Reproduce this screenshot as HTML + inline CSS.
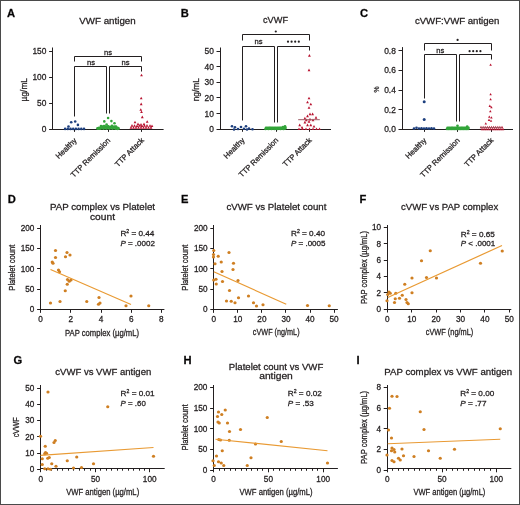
<!DOCTYPE html>
<html><head><meta charset="utf-8"><style>
html,body{margin:0;padding:0;background:#fff;}
svg{display:block;font-family:"Liberation Sans", sans-serif;will-change:transform;}
text{stroke:#231f20;stroke-width:0.28px;}
</style></head><body>
<svg width="520" height="505" viewBox="0 0 520 505">
<rect x="0.5" y="0.5" width="519" height="504" fill="none" stroke="#4a4a4a" stroke-width="1"/>
<text x="7.00" y="16.90" font-size="11.2" text-anchor="start" font-weight="bold" fill="#000"  style="">A</text>
<text x="180.70" y="16.90" font-size="11.2" text-anchor="start" font-weight="bold" fill="#000"  style="">B</text>
<text x="360.00" y="17.30" font-size="11.2" text-anchor="start" font-weight="bold" fill="#000"  style="">C</text>
<text x="7.70" y="203.40" font-size="11.2" text-anchor="start" font-weight="bold" fill="#000"  style="">D</text>
<text x="181.00" y="203.40" font-size="11.2" text-anchor="start" font-weight="bold" fill="#000"  style="">E</text>
<text x="359.40" y="203.40" font-size="11.2" text-anchor="start" font-weight="bold" fill="#000"  style="">F</text>
<text x="13.50" y="364.00" font-size="11.2" text-anchor="start" font-weight="bold" fill="#000"  style="">G</text>
<text x="183.60" y="363.70" font-size="11.2" text-anchor="start" font-weight="bold" fill="#000"  style="">H</text>
<text x="356.40" y="363.70" font-size="11.2" text-anchor="start" font-weight="bold" fill="#000"  style="">I</text>
<text x="107.50" y="23.80" font-size="9.6" text-anchor="middle" font-weight="normal" fill="#231f20" textLength="56.3" lengthAdjust="spacingAndGlyphs" style="">VWF antigen</text>
<text x="275.50" y="23.40" font-size="9.6" text-anchor="middle" font-weight="normal" fill="#231f20" textLength="25" lengthAdjust="spacingAndGlyphs" style="">cVWF</text>
<text x="457.10" y="23.80" font-size="9.6" text-anchor="middle" font-weight="normal" fill="#231f20" textLength="84.4" lengthAdjust="spacingAndGlyphs" style="">cVWF:VWF antigen</text>
<line x1="52.60" y1="129.50" x2="163.60" y2="129.50" stroke="#231f20" stroke-width="1"/>
<line x1="52.50" y1="47.50" x2="52.50" y2="129.90" stroke="#231f20" stroke-width="1"/>
<line x1="49.10" y1="129.50" x2="52.60" y2="129.50" stroke="#231f20" stroke-width="1"/>
<text x="46.40" y="132.30" font-size="8.4" text-anchor="end" font-weight="normal" fill="#231f20"  style="">0</text>
<line x1="49.10" y1="103.50" x2="52.60" y2="103.50" stroke="#231f20" stroke-width="1"/>
<text x="46.40" y="106.17" font-size="8.4" text-anchor="end" font-weight="normal" fill="#231f20"  style="">50</text>
<line x1="49.10" y1="77.50" x2="52.60" y2="77.50" stroke="#231f20" stroke-width="1"/>
<text x="46.40" y="80.03" font-size="8.4" text-anchor="end" font-weight="normal" fill="#231f20"  style="">100</text>
<line x1="49.10" y1="51.50" x2="52.60" y2="51.50" stroke="#231f20" stroke-width="1"/>
<text x="46.40" y="53.90" font-size="8.4" text-anchor="end" font-weight="normal" fill="#231f20"  style="">150</text>
<line x1="74.50" y1="129.40" x2="74.50" y2="131.90" stroke="#231f20" stroke-width="1"/>
<text transform="translate(77.30,140.90) rotate(-45)" font-size="7.7" text-anchor="end" fill="#231f20">Healthy</text>
<line x1="108.50" y1="129.40" x2="108.50" y2="131.90" stroke="#231f20" stroke-width="1"/>
<text transform="translate(110.90,140.90) rotate(-45)" font-size="7.7" text-anchor="end" fill="#231f20">TTP Remission</text>
<line x1="141.50" y1="129.40" x2="141.50" y2="131.90" stroke="#231f20" stroke-width="1"/>
<text transform="translate(144.40,140.90) rotate(-45)" font-size="7.7" text-anchor="end" fill="#231f20">TTP Attack</text>
<text transform="translate(27.00,89.70) rotate(-90)" font-size="8.4" text-anchor="middle" fill="#231f20">µg/mL</text>
<polyline points="74.50,61.50 74.50,56.50 141.50,56.50 141.50,61.50" fill="none" stroke="#231f20" stroke-width="1"/>
<polyline points="74.50,116.50 74.50,66.50 106.50,66.50 106.50,113.50" fill="none" stroke="#231f20" stroke-width="1"/>
<polyline points="109.50,113.50 109.50,66.50 141.50,66.50 141.50,71.50" fill="none" stroke="#231f20" stroke-width="1"/>
<text x="108.00" y="55.20" font-size="7.6" text-anchor="middle" font-weight="normal" fill="#231f20"  style="">ns</text>
<text x="91.00" y="64.60" font-size="7.6" text-anchor="middle" font-weight="normal" fill="#231f20"  style="">ns</text>
<text x="125.60" y="64.60" font-size="7.6" text-anchor="middle" font-weight="normal" fill="#231f20"  style="">ns</text>
<circle cx="71.20" cy="122.20" r="1.3" fill="#1d3f7e"/>
<circle cx="75.20" cy="121.50" r="1.3" fill="#1d3f7e"/>
<circle cx="68.50" cy="126.50" r="1.3" fill="#1d3f7e"/>
<circle cx="77.90" cy="124.90" r="1.3" fill="#1d3f7e"/>
<circle cx="65.10" cy="128.90" r="1.3" fill="#1d3f7e"/>
<circle cx="67.80" cy="128.90" r="1.3" fill="#1d3f7e"/>
<circle cx="70.50" cy="128.90" r="1.3" fill="#1d3f7e"/>
<circle cx="73.20" cy="128.90" r="1.3" fill="#1d3f7e"/>
<circle cx="75.90" cy="128.90" r="1.3" fill="#1d3f7e"/>
<circle cx="78.60" cy="128.90" r="1.3" fill="#1d3f7e"/>
<circle cx="81.30" cy="128.90" r="1.3" fill="#1d3f7e"/>
<circle cx="84.00" cy="128.90" r="1.3" fill="#1d3f7e"/>
<circle cx="108.10" cy="118.00" r="1.3" fill="#33a53a"/>
<circle cx="104.30" cy="121.40" r="1.3" fill="#33a53a"/>
<circle cx="111.40" cy="121.10" r="1.3" fill="#33a53a"/>
<circle cx="114.50" cy="123.20" r="1.3" fill="#33a53a"/>
<circle cx="106.60" cy="124.50" r="1.3" fill="#33a53a"/>
<circle cx="101.00" cy="126.00" r="1.3" fill="#33a53a"/>
<circle cx="116.00" cy="126.50" r="1.3" fill="#33a53a"/>
<circle cx="97.50" cy="128.50" r="1.4" fill="#33a53a"/>
<circle cx="98.50" cy="128.20" r="1.4" fill="#33a53a"/>
<circle cx="99.50" cy="127.90" r="1.4" fill="#33a53a"/>
<circle cx="100.50" cy="128.50" r="1.4" fill="#33a53a"/>
<circle cx="101.50" cy="127.60" r="1.4" fill="#33a53a"/>
<circle cx="102.50" cy="126.70" r="1.4" fill="#33a53a"/>
<circle cx="103.50" cy="128.50" r="1.4" fill="#33a53a"/>
<circle cx="104.50" cy="127.60" r="1.4" fill="#33a53a"/>
<circle cx="105.50" cy="126.70" r="1.4" fill="#33a53a"/>
<circle cx="106.50" cy="128.50" r="1.4" fill="#33a53a"/>
<circle cx="107.50" cy="127.60" r="1.4" fill="#33a53a"/>
<circle cx="108.50" cy="126.70" r="1.4" fill="#33a53a"/>
<circle cx="109.50" cy="128.50" r="1.4" fill="#33a53a"/>
<circle cx="110.50" cy="127.60" r="1.4" fill="#33a53a"/>
<circle cx="111.50" cy="126.70" r="1.4" fill="#33a53a"/>
<circle cx="112.50" cy="128.50" r="1.4" fill="#33a53a"/>
<circle cx="113.50" cy="127.60" r="1.4" fill="#33a53a"/>
<circle cx="114.50" cy="126.70" r="1.4" fill="#33a53a"/>
<circle cx="115.50" cy="128.50" r="1.4" fill="#33a53a"/>
<circle cx="116.50" cy="128.20" r="1.4" fill="#33a53a"/>
<circle cx="117.50" cy="127.90" r="1.4" fill="#33a53a"/>
<circle cx="118.50" cy="128.50" r="1.4" fill="#33a53a"/>
<circle cx="102.00" cy="127.50" r="1.4" fill="#33a53a"/>
<circle cx="106.00" cy="127.00" r="1.4" fill="#33a53a"/>
<circle cx="110.00" cy="127.50" r="1.4" fill="#33a53a"/>
<circle cx="113.00" cy="127.20" r="1.4" fill="#33a53a"/>
<circle cx="99.00" cy="128.50" r="1.4" fill="#33a53a"/>
<circle cx="117.50" cy="128.80" r="1.4" fill="#33a53a"/>
<circle cx="104.00" cy="126.20" r="1.4" fill="#33a53a"/>
<circle cx="108.00" cy="126.30" r="1.4" fill="#33a53a"/>
<circle cx="112.00" cy="126.00" r="1.4" fill="#33a53a"/>
<polygon points="141.50,73.70 140.10,76.36 142.90,76.36" fill="#b8122f"/>
<polygon points="141.20,96.70 139.80,99.36 142.60,99.36" fill="#b8122f"/>
<polygon points="141.20,102.50 139.80,105.16 142.60,105.16" fill="#b8122f"/>
<polygon points="140.80,108.20 139.40,110.86 142.20,110.86" fill="#b8122f"/>
<polygon points="141.50,110.40 140.10,113.06 142.90,113.06" fill="#b8122f"/>
<polygon points="142.30,115.60 140.90,118.26 143.70,118.26" fill="#b8122f"/>
<polygon points="135.00,120.70 133.60,123.36 136.40,123.36" fill="#b8122f"/>
<polygon points="147.20,120.20 145.80,122.86 148.60,122.86" fill="#b8122f"/>
<polygon points="138.00,122.60 136.60,125.26 139.40,125.26" fill="#b8122f"/>
<polygon points="141.00,123.00 139.60,125.66 142.40,125.66" fill="#b8122f"/>
<polygon points="144.00,122.60 142.60,125.26 145.40,125.26" fill="#b8122f"/>
<polygon points="132.00,124.00 130.60,126.66 133.40,126.66" fill="#b8122f"/>
<polygon points="134.50,124.20 133.10,126.86 135.90,126.86" fill="#b8122f"/>
<polygon points="137.00,124.40 135.60,127.06 138.40,127.06" fill="#b8122f"/>
<polygon points="139.50,124.00 138.10,126.66 140.90,126.66" fill="#b8122f"/>
<polygon points="142.00,124.40 140.60,127.06 143.40,127.06" fill="#b8122f"/>
<polygon points="144.50,124.20 143.10,126.86 145.90,126.86" fill="#b8122f"/>
<polygon points="147.00,124.00 145.60,126.66 148.40,126.66" fill="#b8122f"/>
<polygon points="150.00,124.20 148.60,126.86 151.40,126.86" fill="#b8122f"/>
<polygon points="152.00,124.40 150.60,127.06 153.40,127.06" fill="#b8122f"/>
<polygon points="131.00,126.00 129.60,128.66 132.40,128.66" fill="#b8122f"/>
<polygon points="133.50,126.20 132.10,128.86 134.90,128.86" fill="#b8122f"/>
<polygon points="136.00,126.00 134.60,128.66 137.40,128.66" fill="#b8122f"/>
<polygon points="138.50,126.20 137.10,128.86 139.90,128.86" fill="#b8122f"/>
<polygon points="141.00,126.00 139.60,128.66 142.40,128.66" fill="#b8122f"/>
<polygon points="143.50,126.20 142.10,128.86 144.90,128.86" fill="#b8122f"/>
<polygon points="146.00,126.00 144.60,128.66 147.40,128.66" fill="#b8122f"/>
<polygon points="148.50,126.20 147.10,128.86 149.90,128.86" fill="#b8122f"/>
<polygon points="151.00,126.00 149.60,128.66 152.40,128.66" fill="#b8122f"/>
<line x1="220.00" y1="129.50" x2="331.00" y2="129.50" stroke="#231f20" stroke-width="1"/>
<line x1="220.50" y1="47.50" x2="220.50" y2="129.80" stroke="#231f20" stroke-width="1"/>
<line x1="216.50" y1="129.50" x2="220.00" y2="129.50" stroke="#231f20" stroke-width="1"/>
<text x="213.80" y="132.20" font-size="8.4" text-anchor="end" font-weight="normal" fill="#231f20"  style="">0</text>
<line x1="216.50" y1="113.50" x2="220.00" y2="113.50" stroke="#231f20" stroke-width="1"/>
<text x="213.80" y="116.54" font-size="8.4" text-anchor="end" font-weight="normal" fill="#231f20"  style="">10</text>
<line x1="216.50" y1="97.50" x2="220.00" y2="97.50" stroke="#231f20" stroke-width="1"/>
<text x="213.80" y="100.88" font-size="8.4" text-anchor="end" font-weight="normal" fill="#231f20"  style="">20</text>
<line x1="216.50" y1="82.50" x2="220.00" y2="82.50" stroke="#231f20" stroke-width="1"/>
<text x="213.80" y="85.22" font-size="8.4" text-anchor="end" font-weight="normal" fill="#231f20"  style="">30</text>
<line x1="216.50" y1="66.50" x2="220.00" y2="66.50" stroke="#231f20" stroke-width="1"/>
<text x="213.80" y="69.56" font-size="8.4" text-anchor="end" font-weight="normal" fill="#231f20"  style="">40</text>
<line x1="216.50" y1="51.50" x2="220.00" y2="51.50" stroke="#231f20" stroke-width="1"/>
<text x="213.80" y="53.90" font-size="8.4" text-anchor="end" font-weight="normal" fill="#231f20"  style="">50</text>
<line x1="242.50" y1="129.30" x2="242.50" y2="131.80" stroke="#231f20" stroke-width="1"/>
<text transform="translate(245.30,140.80) rotate(-45)" font-size="7.7" text-anchor="end" fill="#231f20">Healthy</text>
<line x1="276.50" y1="129.30" x2="276.50" y2="131.80" stroke="#231f20" stroke-width="1"/>
<text transform="translate(278.90,140.80) rotate(-45)" font-size="7.7" text-anchor="end" fill="#231f20">TTP Remission</text>
<line x1="309.50" y1="129.30" x2="309.50" y2="131.80" stroke="#231f20" stroke-width="1"/>
<text transform="translate(312.30,140.80) rotate(-45)" font-size="7.7" text-anchor="end" fill="#231f20">TTP Attack</text>
<text transform="translate(199.00,89.65) rotate(-90)" font-size="8.4" text-anchor="middle" fill="#231f20">ng/mL</text>
<polyline points="242.50,40.50 242.50,34.50 309.50,34.50 309.50,40.50" fill="none" stroke="#231f20" stroke-width="1"/>
<polyline points="242.50,120.50 242.50,46.50 274.50,46.50 274.50,122.50" fill="none" stroke="#231f20" stroke-width="1"/>
<polyline points="277.50,122.50 277.50,46.50 309.50,46.50 309.50,50.50" fill="none" stroke="#231f20" stroke-width="1"/>
<circle cx="275.80" cy="31.50" r="1.1" fill="#231f20"/>
<text x="258.50" y="43.90" font-size="7.6" text-anchor="middle" font-weight="normal" fill="#231f20"  style="">ns</text>
<circle cx="288.00" cy="41.70" r="1.1" fill="#231f20"/>
<circle cx="291.60" cy="41.70" r="1.1" fill="#231f20"/>
<circle cx="295.20" cy="41.70" r="1.1" fill="#231f20"/>
<circle cx="298.80" cy="41.70" r="1.1" fill="#231f20"/>
<circle cx="232.00" cy="126.30" r="1.3" fill="#1d3f7e"/>
<circle cx="235.00" cy="127.30" r="1.3" fill="#1d3f7e"/>
<circle cx="241.00" cy="127.00" r="1.3" fill="#1d3f7e"/>
<circle cx="246.00" cy="126.30" r="1.3" fill="#1d3f7e"/>
<circle cx="238.00" cy="129.00" r="1.3" fill="#1d3f7e"/>
<circle cx="244.00" cy="128.80" r="1.3" fill="#1d3f7e"/>
<circle cx="249.00" cy="128.50" r="1.3" fill="#1d3f7e"/>
<circle cx="252.50" cy="129.20" r="1.3" fill="#1d3f7e"/>
<circle cx="234.00" cy="129.50" r="1.3" fill="#1d3f7e"/>
<circle cx="247.00" cy="129.50" r="1.3" fill="#1d3f7e"/>
<circle cx="265.50" cy="129.00" r="1.35" fill="#33a53a"/>
<circle cx="266.00" cy="127.80" r="1.3" fill="#33a53a"/>
<circle cx="267.00" cy="128.60" r="1.35" fill="#33a53a"/>
<circle cx="267.50" cy="127.80" r="1.3" fill="#33a53a"/>
<circle cx="268.50" cy="129.00" r="1.35" fill="#33a53a"/>
<circle cx="269.00" cy="127.80" r="1.3" fill="#33a53a"/>
<circle cx="270.00" cy="128.60" r="1.35" fill="#33a53a"/>
<circle cx="270.50" cy="127.80" r="1.3" fill="#33a53a"/>
<circle cx="271.50" cy="129.00" r="1.35" fill="#33a53a"/>
<circle cx="272.00" cy="127.80" r="1.3" fill="#33a53a"/>
<circle cx="273.00" cy="128.60" r="1.35" fill="#33a53a"/>
<circle cx="273.50" cy="127.80" r="1.3" fill="#33a53a"/>
<circle cx="274.50" cy="129.00" r="1.35" fill="#33a53a"/>
<circle cx="275.00" cy="127.80" r="1.3" fill="#33a53a"/>
<circle cx="276.00" cy="128.60" r="1.35" fill="#33a53a"/>
<circle cx="276.50" cy="127.80" r="1.3" fill="#33a53a"/>
<circle cx="277.50" cy="129.00" r="1.35" fill="#33a53a"/>
<circle cx="278.00" cy="127.80" r="1.3" fill="#33a53a"/>
<circle cx="279.00" cy="128.60" r="1.35" fill="#33a53a"/>
<circle cx="279.50" cy="127.80" r="1.3" fill="#33a53a"/>
<circle cx="280.50" cy="129.00" r="1.35" fill="#33a53a"/>
<circle cx="281.00" cy="127.80" r="1.3" fill="#33a53a"/>
<circle cx="282.00" cy="128.60" r="1.35" fill="#33a53a"/>
<circle cx="282.50" cy="127.80" r="1.3" fill="#33a53a"/>
<circle cx="283.50" cy="129.00" r="1.35" fill="#33a53a"/>
<circle cx="284.00" cy="127.80" r="1.3" fill="#33a53a"/>
<circle cx="285.00" cy="128.60" r="1.35" fill="#33a53a"/>
<circle cx="285.50" cy="127.80" r="1.3" fill="#33a53a"/>
<circle cx="283.00" cy="127.00" r="1.35" fill="#33a53a"/>
<circle cx="285.00" cy="126.30" r="1.35" fill="#33a53a"/>
<circle cx="270.00" cy="128.00" r="1.35" fill="#33a53a"/>
<circle cx="276.00" cy="128.30" r="1.35" fill="#33a53a"/>
<circle cx="280.00" cy="128.00" r="1.35" fill="#33a53a"/>
<polygon points="309.40,54.00 308.00,56.66 310.80,56.66" fill="#b8122f"/>
<polygon points="309.00,68.50 307.60,71.16 310.40,71.16" fill="#b8122f"/>
<polygon points="309.00,96.70 307.60,99.36 310.40,99.36" fill="#b8122f"/>
<polygon points="307.50,100.70 306.10,103.36 308.90,103.36" fill="#b8122f"/>
<polygon points="310.80,102.70 309.40,105.36 312.20,105.36" fill="#b8122f"/>
<polygon points="309.00,106.20 307.60,108.86 310.40,108.86" fill="#b8122f"/>
<polygon points="310.00,112.60 308.60,115.26 311.40,115.26" fill="#b8122f"/>
<polygon points="312.60,112.60 311.20,115.26 314.00,115.26" fill="#b8122f"/>
<polygon points="307.50,114.60 306.10,117.26 308.90,117.26" fill="#b8122f"/>
<polygon points="304.90,116.80 303.50,119.46 306.30,119.46" fill="#b8122f"/>
<polygon points="316.00,116.10 314.60,118.76 317.40,118.76" fill="#b8122f"/>
<polygon points="306.30,118.60 304.90,121.26 307.70,121.26" fill="#b8122f"/>
<polygon points="310.00,117.80 308.60,120.46 311.40,120.46" fill="#b8122f"/>
<polygon points="313.00,118.60 311.60,121.26 314.40,121.26" fill="#b8122f"/>
<polygon points="304.90,120.80 303.50,123.46 306.30,123.46" fill="#b8122f"/>
<polygon points="309.00,120.10 307.60,122.76 310.40,122.76" fill="#b8122f"/>
<polygon points="299.70,123.50 298.30,126.16 301.10,126.16" fill="#b8122f"/>
<polygon points="307.50,123.50 306.10,126.16 308.90,126.16" fill="#b8122f"/>
<polygon points="310.80,123.50 309.40,126.16 312.20,126.16" fill="#b8122f"/>
<polygon points="314.00,124.90 312.60,127.56 315.40,127.56" fill="#b8122f"/>
<polygon points="302.00,125.90 300.60,128.56 303.40,128.56" fill="#b8122f"/>
<polygon points="299.00,127.40 297.60,130.06 300.40,130.06" fill="#b8122f"/>
<polygon points="302.50,127.40 301.10,130.06 303.90,130.06" fill="#b8122f"/>
<polygon points="306.00,127.40 304.60,130.06 307.40,130.06" fill="#b8122f"/>
<polygon points="309.50,127.40 308.10,130.06 310.90,130.06" fill="#b8122f"/>
<polygon points="313.00,127.40 311.60,130.06 314.40,130.06" fill="#b8122f"/>
<polygon points="316.50,127.40 315.10,130.06 317.90,130.06" fill="#b8122f"/>
<polygon points="319.50,127.40 318.10,130.06 320.90,130.06" fill="#b8122f"/>
<line x1="298.20" y1="119.70" x2="319.80" y2="119.70" stroke="#9e5a64" stroke-width="1"/>
<line x1="402.00" y1="129.50" x2="513.00" y2="129.50" stroke="#231f20" stroke-width="1"/>
<line x1="402.50" y1="47.10" x2="402.50" y2="129.90" stroke="#231f20" stroke-width="1"/>
<line x1="398.50" y1="129.50" x2="402.00" y2="129.50" stroke="#231f20" stroke-width="1"/>
<text x="395.80" y="132.30" font-size="8.4" text-anchor="end" font-weight="normal" fill="#231f20"  style="">0.0</text>
<line x1="398.50" y1="109.50" x2="402.00" y2="109.50" stroke="#231f20" stroke-width="1"/>
<text x="395.80" y="112.60" font-size="8.4" text-anchor="end" font-weight="normal" fill="#231f20"  style="">0.2</text>
<line x1="398.50" y1="90.50" x2="402.00" y2="90.50" stroke="#231f20" stroke-width="1"/>
<text x="395.80" y="92.90" font-size="8.4" text-anchor="end" font-weight="normal" fill="#231f20"  style="">0.4</text>
<line x1="398.50" y1="70.50" x2="402.00" y2="70.50" stroke="#231f20" stroke-width="1"/>
<text x="395.80" y="73.20" font-size="8.4" text-anchor="end" font-weight="normal" fill="#231f20"  style="">0.6</text>
<line x1="398.50" y1="50.50" x2="402.00" y2="50.50" stroke="#231f20" stroke-width="1"/>
<text x="395.80" y="53.50" font-size="8.4" text-anchor="end" font-weight="normal" fill="#231f20"  style="">0.8</text>
<line x1="424.50" y1="129.40" x2="424.50" y2="131.90" stroke="#231f20" stroke-width="1"/>
<text transform="translate(426.90,140.90) rotate(-45)" font-size="7.7" text-anchor="end" fill="#231f20">Healthy</text>
<line x1="457.50" y1="129.40" x2="457.50" y2="131.90" stroke="#231f20" stroke-width="1"/>
<text transform="translate(460.40,140.90) rotate(-45)" font-size="7.7" text-anchor="end" fill="#231f20">TTP Remission</text>
<line x1="491.50" y1="129.40" x2="491.50" y2="131.90" stroke="#231f20" stroke-width="1"/>
<text transform="translate(493.90,140.90) rotate(-45)" font-size="7.7" text-anchor="end" fill="#231f20">TTP Attack</text>
<text transform="translate(379.00,89.50) rotate(-90)" font-size="6.8" text-anchor="middle" fill="#231f20">%</text>
<polyline points="424.50,50.50 424.50,43.50 491.50,43.50 491.50,50.50" fill="none" stroke="#231f20" stroke-width="1"/>
<polyline points="424.50,98.50 424.50,54.50 456.50,54.50 456.50,121.50" fill="none" stroke="#231f20" stroke-width="1"/>
<polyline points="459.50,121.50 459.50,54.50 491.50,54.50 491.50,59.50" fill="none" stroke="#231f20" stroke-width="1"/>
<circle cx="457.60" cy="39.90" r="1.1" fill="#231f20"/>
<text x="440.20" y="52.70" font-size="7.6" text-anchor="middle" font-weight="normal" fill="#231f20"  style="">ns</text>
<circle cx="469.60" cy="51.20" r="1.1" fill="#231f20"/>
<circle cx="473.20" cy="51.20" r="1.1" fill="#231f20"/>
<circle cx="476.80" cy="51.20" r="1.1" fill="#231f20"/>
<circle cx="480.40" cy="51.20" r="1.1" fill="#231f20"/>
<circle cx="424.20" cy="101.70" r="1.5" fill="#1d3f7e"/>
<circle cx="424.20" cy="119.60" r="1.5" fill="#1d3f7e"/>
<circle cx="414.00" cy="128.60" r="1.3" fill="#1d3f7e"/>
<circle cx="416.50" cy="127.80" r="1.3" fill="#1d3f7e"/>
<circle cx="419.00" cy="128.50" r="1.3" fill="#1d3f7e"/>
<circle cx="421.50" cy="128.20" r="1.3" fill="#1d3f7e"/>
<circle cx="424.00" cy="128.60" r="1.3" fill="#1d3f7e"/>
<circle cx="426.50" cy="128.20" r="1.3" fill="#1d3f7e"/>
<circle cx="429.00" cy="128.60" r="1.3" fill="#1d3f7e"/>
<circle cx="431.50" cy="128.20" r="1.3" fill="#1d3f7e"/>
<circle cx="434.00" cy="128.60" r="1.3" fill="#1d3f7e"/>
<circle cx="447.00" cy="129.00" r="1.35" fill="#33a53a"/>
<circle cx="447.50" cy="127.90" r="1.3" fill="#33a53a"/>
<circle cx="448.50" cy="129.00" r="1.35" fill="#33a53a"/>
<circle cx="449.00" cy="127.90" r="1.3" fill="#33a53a"/>
<circle cx="450.00" cy="129.00" r="1.35" fill="#33a53a"/>
<circle cx="450.50" cy="127.90" r="1.3" fill="#33a53a"/>
<circle cx="451.50" cy="129.00" r="1.35" fill="#33a53a"/>
<circle cx="452.00" cy="127.90" r="1.3" fill="#33a53a"/>
<circle cx="453.00" cy="129.00" r="1.35" fill="#33a53a"/>
<circle cx="453.50" cy="127.90" r="1.3" fill="#33a53a"/>
<circle cx="454.50" cy="129.00" r="1.35" fill="#33a53a"/>
<circle cx="455.00" cy="127.90" r="1.3" fill="#33a53a"/>
<circle cx="456.00" cy="129.00" r="1.35" fill="#33a53a"/>
<circle cx="456.50" cy="127.90" r="1.3" fill="#33a53a"/>
<circle cx="457.50" cy="129.00" r="1.35" fill="#33a53a"/>
<circle cx="458.00" cy="127.90" r="1.3" fill="#33a53a"/>
<circle cx="459.00" cy="129.00" r="1.35" fill="#33a53a"/>
<circle cx="459.50" cy="127.90" r="1.3" fill="#33a53a"/>
<circle cx="460.50" cy="129.00" r="1.35" fill="#33a53a"/>
<circle cx="461.00" cy="127.90" r="1.3" fill="#33a53a"/>
<circle cx="462.00" cy="129.00" r="1.35" fill="#33a53a"/>
<circle cx="462.50" cy="127.90" r="1.3" fill="#33a53a"/>
<circle cx="463.50" cy="129.00" r="1.35" fill="#33a53a"/>
<circle cx="464.00" cy="127.90" r="1.3" fill="#33a53a"/>
<circle cx="465.00" cy="129.00" r="1.35" fill="#33a53a"/>
<circle cx="465.50" cy="127.90" r="1.3" fill="#33a53a"/>
<circle cx="466.50" cy="129.00" r="1.35" fill="#33a53a"/>
<circle cx="467.00" cy="127.90" r="1.3" fill="#33a53a"/>
<circle cx="468.00" cy="129.00" r="1.35" fill="#33a53a"/>
<circle cx="468.50" cy="127.90" r="1.3" fill="#33a53a"/>
<circle cx="457.50" cy="125.80" r="1.35" fill="#33a53a"/>
<circle cx="467.20" cy="126.60" r="1.35" fill="#33a53a"/>
<circle cx="452.00" cy="128.00" r="1.35" fill="#33a53a"/>
<circle cx="462.00" cy="128.00" r="1.35" fill="#33a53a"/>
<polygon points="490.60,63.38 489.35,65.75 491.85,65.75" fill="#b8122f"/>
<polygon points="490.60,92.88 489.35,95.25 491.85,95.25" fill="#b8122f"/>
<polygon points="490.60,97.98 489.35,100.35 491.85,100.35" fill="#b8122f"/>
<polygon points="489.80,104.58 488.55,106.95 491.05,106.95" fill="#b8122f"/>
<polygon points="491.40,105.88 490.15,108.25 492.65,108.25" fill="#b8122f"/>
<polygon points="490.30,109.88 489.05,112.25 491.55,112.25" fill="#b8122f"/>
<polygon points="489.30,115.38 488.05,117.75 490.55,117.75" fill="#b8122f"/>
<polygon points="491.40,116.17 490.15,118.55 492.65,118.55" fill="#b8122f"/>
<polygon points="489.00,118.58 487.75,120.95 490.25,120.95" fill="#b8122f"/>
<polygon points="491.00,119.38 489.75,121.75 492.25,121.75" fill="#b8122f"/>
<polygon points="485.80,122.17 484.55,124.55 487.05,124.55" fill="#b8122f"/>
<polygon points="481.00,125.78 479.75,128.15 482.25,128.15" fill="#b8122f"/>
<polygon points="482.00,127.77 480.75,130.15 483.25,130.15" fill="#b8122f"/>
<polygon points="483.10,125.78 481.85,128.15 484.35,128.15" fill="#b8122f"/>
<polygon points="484.10,127.77 482.85,130.15 485.35,130.15" fill="#b8122f"/>
<polygon points="485.20,125.78 483.95,128.15 486.45,128.15" fill="#b8122f"/>
<polygon points="486.20,127.77 484.95,130.15 487.45,130.15" fill="#b8122f"/>
<polygon points="487.30,125.78 486.05,128.15 488.55,128.15" fill="#b8122f"/>
<polygon points="488.30,127.77 487.05,130.15 489.55,130.15" fill="#b8122f"/>
<polygon points="489.40,125.78 488.15,128.15 490.65,128.15" fill="#b8122f"/>
<polygon points="490.40,127.77 489.15,130.15 491.65,130.15" fill="#b8122f"/>
<polygon points="491.50,125.78 490.25,128.15 492.75,128.15" fill="#b8122f"/>
<polygon points="492.50,127.77 491.25,130.15 493.75,130.15" fill="#b8122f"/>
<polygon points="493.60,125.78 492.35,128.15 494.85,128.15" fill="#b8122f"/>
<polygon points="494.60,127.77 493.35,130.15 495.85,130.15" fill="#b8122f"/>
<polygon points="495.70,125.78 494.45,128.15 496.95,128.15" fill="#b8122f"/>
<polygon points="496.70,127.77 495.45,130.15 497.95,130.15" fill="#b8122f"/>
<polygon points="497.80,125.78 496.55,128.15 499.05,128.15" fill="#b8122f"/>
<polygon points="498.80,127.77 497.55,130.15 500.05,130.15" fill="#b8122f"/>
<polygon points="499.90,125.78 498.65,128.15 501.15,128.15" fill="#b8122f"/>
<polygon points="500.90,127.77 499.65,130.15 502.15,130.15" fill="#b8122f"/>
<polygon points="502.00,125.78 500.75,128.15 503.25,128.15" fill="#b8122f"/>
<polygon points="503.00,127.77 501.75,130.15 504.25,130.15" fill="#b8122f"/>
<line x1="480.30" y1="127.50" x2="501.70" y2="127.50" stroke="#9e5a64" stroke-width="1"/>
<line x1="40.60" y1="309.50" x2="164.40" y2="309.50" stroke="#231f20" stroke-width="1"/>
<line x1="40.50" y1="225.00" x2="40.50" y2="312.30" stroke="#231f20" stroke-width="1"/>
<line x1="37.10" y1="309.50" x2="40.60" y2="309.50" stroke="#231f20" stroke-width="1"/>
<text x="34.40" y="312.30" font-size="8.2" text-anchor="end" font-weight="normal" fill="#231f20"  style="">0</text>
<line x1="37.10" y1="289.50" x2="40.60" y2="289.50" stroke="#231f20" stroke-width="1"/>
<text x="34.40" y="292.00" font-size="8.2" text-anchor="end" font-weight="normal" fill="#231f20"  style="">50</text>
<line x1="37.10" y1="268.50" x2="40.60" y2="268.50" stroke="#231f20" stroke-width="1"/>
<text x="34.40" y="271.70" font-size="8.2" text-anchor="end" font-weight="normal" fill="#231f20"  style="">100</text>
<line x1="37.10" y1="248.50" x2="40.60" y2="248.50" stroke="#231f20" stroke-width="1"/>
<text x="34.40" y="251.40" font-size="8.2" text-anchor="end" font-weight="normal" fill="#231f20"  style="">150</text>
<line x1="37.10" y1="228.50" x2="40.60" y2="228.50" stroke="#231f20" stroke-width="1"/>
<text x="34.40" y="231.10" font-size="8.2" text-anchor="end" font-weight="normal" fill="#231f20"  style="">200</text>
<line x1="40.50" y1="309.30" x2="40.50" y2="312.80" stroke="#231f20" stroke-width="1"/>
<text x="40.60" y="322.30" font-size="8.2" text-anchor="middle" font-weight="normal" fill="#231f20"  style="">0</text>
<line x1="70.50" y1="309.30" x2="70.50" y2="312.80" stroke="#231f20" stroke-width="1"/>
<text x="70.80" y="322.30" font-size="8.2" text-anchor="middle" font-weight="normal" fill="#231f20"  style="">2</text>
<line x1="101.50" y1="309.30" x2="101.50" y2="312.80" stroke="#231f20" stroke-width="1"/>
<text x="101.00" y="322.30" font-size="8.2" text-anchor="middle" font-weight="normal" fill="#231f20"  style="">4</text>
<line x1="131.50" y1="309.30" x2="131.50" y2="312.80" stroke="#231f20" stroke-width="1"/>
<text x="131.20" y="322.30" font-size="8.2" text-anchor="middle" font-weight="normal" fill="#231f20"  style="">6</text>
<line x1="161.50" y1="309.30" x2="161.50" y2="312.80" stroke="#231f20" stroke-width="1"/>
<text x="161.40" y="322.30" font-size="8.2" text-anchor="middle" font-weight="normal" fill="#231f20"  style="">8</text>
<text transform="translate(15.00,267.65) rotate(-90)" font-size="8.9" text-anchor="middle" fill="#231f20" textLength="46" lengthAdjust="spacingAndGlyphs">Platelet count</text>
<text x="102.00" y="336.00" font-size="8.9" text-anchor="middle" font-weight="normal" fill="#231f20" textLength="74" lengthAdjust="spacingAndGlyphs" style="">PAP complex (µg/mL)</text>
<circle cx="55.50" cy="250.50" r="1.6" fill="#cf7f22"/>
<circle cx="67.00" cy="252.50" r="1.6" fill="#cf7f22"/>
<circle cx="70.00" cy="255.00" r="1.6" fill="#cf7f22"/>
<circle cx="55.50" cy="257.50" r="1.6" fill="#cf7f22"/>
<circle cx="65.50" cy="256.75" r="1.6" fill="#cf7f22"/>
<circle cx="52.25" cy="262.00" r="1.6" fill="#cf7f22"/>
<circle cx="53.00" cy="263.25" r="1.6" fill="#cf7f22"/>
<circle cx="58.50" cy="270.00" r="1.6" fill="#cf7f22"/>
<circle cx="59.50" cy="271.75" r="1.6" fill="#cf7f22"/>
<circle cx="67.50" cy="279.50" r="1.6" fill="#cf7f22"/>
<circle cx="69.25" cy="281.25" r="1.6" fill="#cf7f22"/>
<circle cx="71.00" cy="280.00" r="1.6" fill="#cf7f22"/>
<circle cx="67.25" cy="284.25" r="1.6" fill="#cf7f22"/>
<circle cx="65.25" cy="290.75" r="1.6" fill="#cf7f22"/>
<circle cx="50.50" cy="303.00" r="1.6" fill="#cf7f22"/>
<circle cx="60.00" cy="301.50" r="1.6" fill="#cf7f22"/>
<circle cx="86.75" cy="301.50" r="1.6" fill="#cf7f22"/>
<circle cx="99.00" cy="297.50" r="1.6" fill="#cf7f22"/>
<circle cx="98.50" cy="304.25" r="1.6" fill="#cf7f22"/>
<circle cx="100.00" cy="303.00" r="1.6" fill="#cf7f22"/>
<circle cx="131.00" cy="296.00" r="1.6" fill="#cf7f22"/>
<circle cx="126.00" cy="305.75" r="1.6" fill="#cf7f22"/>
<circle cx="148.75" cy="305.75" r="1.6" fill="#cf7f22"/>
<line x1="50.50" y1="269.50" x2="131.00" y2="304.50" stroke="#e99a33" stroke-width="1.2"/>
<text x="102.50" y="210.00" font-size="9.6" text-anchor="middle" font-weight="normal" fill="#231f20" textLength="105" lengthAdjust="spacingAndGlyphs" style="">PAP complex vs Platelet</text>
<text x="102.50" y="219.60" font-size="9.6" text-anchor="middle" font-weight="normal" fill="#231f20" textLength="25" lengthAdjust="spacingAndGlyphs" style="">count</text>
<text x="120.40" y="236.40" font-size="7.9" text-anchor="start" font-weight="normal" fill="#231f20" textLength="34" lengthAdjust="spacingAndGlyphs" style="">R<tspan font-size="5" dy="-3">2</tspan><tspan dy="3"> = 0.44</tspan></text>
<text x="120.40" y="246.00" font-size="7.9" text-anchor="start" font-weight="normal" fill="#231f20" textLength="34.5" lengthAdjust="spacingAndGlyphs" style=""><tspan font-style="italic">P</tspan> = .0002</text>
<line x1="213.80" y1="309.50" x2="337.90" y2="309.50" stroke="#231f20" stroke-width="1"/>
<line x1="213.50" y1="225.00" x2="213.50" y2="312.30" stroke="#231f20" stroke-width="1"/>
<line x1="210.30" y1="309.50" x2="213.80" y2="309.50" stroke="#231f20" stroke-width="1"/>
<text x="207.60" y="312.30" font-size="8.2" text-anchor="end" font-weight="normal" fill="#231f20"  style="">0</text>
<line x1="210.30" y1="289.50" x2="213.80" y2="289.50" stroke="#231f20" stroke-width="1"/>
<text x="207.60" y="292.00" font-size="8.2" text-anchor="end" font-weight="normal" fill="#231f20"  style="">50</text>
<line x1="210.30" y1="268.50" x2="213.80" y2="268.50" stroke="#231f20" stroke-width="1"/>
<text x="207.60" y="271.70" font-size="8.2" text-anchor="end" font-weight="normal" fill="#231f20"  style="">100</text>
<line x1="210.30" y1="248.50" x2="213.80" y2="248.50" stroke="#231f20" stroke-width="1"/>
<text x="207.60" y="251.40" font-size="8.2" text-anchor="end" font-weight="normal" fill="#231f20"  style="">150</text>
<line x1="210.30" y1="228.50" x2="213.80" y2="228.50" stroke="#231f20" stroke-width="1"/>
<text x="207.60" y="231.10" font-size="8.2" text-anchor="end" font-weight="normal" fill="#231f20"  style="">200</text>
<line x1="213.50" y1="309.30" x2="213.50" y2="312.80" stroke="#231f20" stroke-width="1"/>
<text x="213.80" y="322.30" font-size="8.2" text-anchor="middle" font-weight="normal" fill="#231f20"  style="">0</text>
<line x1="237.50" y1="309.30" x2="237.50" y2="312.80" stroke="#231f20" stroke-width="1"/>
<text x="237.86" y="322.30" font-size="8.2" text-anchor="middle" font-weight="normal" fill="#231f20"  style="">10</text>
<line x1="261.50" y1="309.30" x2="261.50" y2="312.80" stroke="#231f20" stroke-width="1"/>
<text x="261.92" y="322.30" font-size="8.2" text-anchor="middle" font-weight="normal" fill="#231f20"  style="">20</text>
<line x1="285.50" y1="309.30" x2="285.50" y2="312.80" stroke="#231f20" stroke-width="1"/>
<text x="285.98" y="322.30" font-size="8.2" text-anchor="middle" font-weight="normal" fill="#231f20"  style="">30</text>
<line x1="310.50" y1="309.30" x2="310.50" y2="312.80" stroke="#231f20" stroke-width="1"/>
<text x="310.04" y="322.30" font-size="8.2" text-anchor="middle" font-weight="normal" fill="#231f20"  style="">40</text>
<line x1="334.50" y1="309.30" x2="334.50" y2="312.80" stroke="#231f20" stroke-width="1"/>
<text x="334.10" y="322.30" font-size="8.2" text-anchor="middle" font-weight="normal" fill="#231f20"  style="">50</text>
<text transform="translate(188.10,267.65) rotate(-90)" font-size="8.9" text-anchor="middle" fill="#231f20" textLength="46" lengthAdjust="spacingAndGlyphs">Platelet count</text>
<text x="276.20" y="335.40" font-size="8.9" text-anchor="middle" font-weight="normal" fill="#231f20" textLength="46.7" lengthAdjust="spacingAndGlyphs" style="">cVWF (ng/mL)</text>
<circle cx="213.75" cy="250.50" r="1.6" fill="#cf7f22"/>
<circle cx="213.50" cy="254.50" r="1.6" fill="#cf7f22"/>
<circle cx="213.50" cy="257.00" r="1.6" fill="#cf7f22"/>
<circle cx="218.25" cy="256.25" r="1.6" fill="#cf7f22"/>
<circle cx="229.00" cy="252.50" r="1.6" fill="#cf7f22"/>
<circle cx="215.00" cy="263.75" r="1.6" fill="#cf7f22"/>
<circle cx="221.25" cy="262.00" r="1.6" fill="#cf7f22"/>
<circle cx="233.50" cy="263.25" r="1.6" fill="#cf7f22"/>
<circle cx="233.00" cy="269.50" r="1.6" fill="#cf7f22"/>
<circle cx="222.00" cy="271.50" r="1.6" fill="#cf7f22"/>
<circle cx="213.75" cy="280.00" r="1.6" fill="#cf7f22"/>
<circle cx="216.00" cy="279.25" r="1.6" fill="#cf7f22"/>
<circle cx="216.25" cy="284.00" r="1.6" fill="#cf7f22"/>
<circle cx="222.50" cy="281.50" r="1.6" fill="#cf7f22"/>
<circle cx="238.00" cy="280.50" r="1.6" fill="#cf7f22"/>
<circle cx="229.50" cy="290.50" r="1.6" fill="#cf7f22"/>
<circle cx="238.50" cy="297.75" r="1.6" fill="#cf7f22"/>
<circle cx="248.50" cy="296.00" r="1.6" fill="#cf7f22"/>
<circle cx="226.50" cy="301.00" r="1.6" fill="#cf7f22"/>
<circle cx="231.25" cy="301.25" r="1.6" fill="#cf7f22"/>
<circle cx="235.00" cy="302.75" r="1.6" fill="#cf7f22"/>
<circle cx="253.50" cy="302.75" r="1.6" fill="#cf7f22"/>
<circle cx="256.50" cy="306.00" r="1.6" fill="#cf7f22"/>
<circle cx="263.00" cy="304.75" r="1.6" fill="#cf7f22"/>
<circle cx="307.50" cy="305.50" r="1.6" fill="#cf7f22"/>
<circle cx="329.25" cy="305.75" r="1.6" fill="#cf7f22"/>
<line x1="213.75" y1="271.75" x2="286.25" y2="304.25" stroke="#e99a33" stroke-width="1.2"/>
<text x="276.40" y="210.20" font-size="9.6" text-anchor="middle" font-weight="normal" fill="#231f20" textLength="100" lengthAdjust="spacingAndGlyphs" style="">cVWF vs Platelet count</text>
<text x="291.00" y="236.40" font-size="7.9" text-anchor="start" font-weight="normal" fill="#231f20" textLength="34" lengthAdjust="spacingAndGlyphs" style="">R<tspan font-size="5" dy="-3">2</tspan><tspan dy="3"> = 0.40</tspan></text>
<text x="291.00" y="246.00" font-size="7.9" text-anchor="start" font-weight="normal" fill="#231f20" textLength="34.5" lengthAdjust="spacingAndGlyphs" style=""><tspan font-style="italic">P</tspan> = .0005</text>
<line x1="387.30" y1="309.50" x2="511.30" y2="309.50" stroke="#231f20" stroke-width="1"/>
<line x1="387.50" y1="225.00" x2="387.50" y2="312.00" stroke="#231f20" stroke-width="1"/>
<line x1="383.80" y1="309.50" x2="387.30" y2="309.50" stroke="#231f20" stroke-width="1"/>
<text x="381.10" y="312.10" font-size="8.2" text-anchor="end" font-weight="normal" fill="#231f20"  style="">0</text>
<line x1="383.80" y1="292.50" x2="387.30" y2="292.50" stroke="#231f20" stroke-width="1"/>
<text x="381.10" y="295.77" font-size="8.2" text-anchor="end" font-weight="normal" fill="#231f20"  style="">2</text>
<line x1="383.80" y1="276.50" x2="387.30" y2="276.50" stroke="#231f20" stroke-width="1"/>
<text x="381.10" y="279.44" font-size="8.2" text-anchor="end" font-weight="normal" fill="#231f20"  style="">4</text>
<line x1="383.80" y1="260.50" x2="387.30" y2="260.50" stroke="#231f20" stroke-width="1"/>
<text x="381.10" y="263.11" font-size="8.2" text-anchor="end" font-weight="normal" fill="#231f20"  style="">6</text>
<line x1="383.80" y1="243.50" x2="387.30" y2="243.50" stroke="#231f20" stroke-width="1"/>
<text x="381.10" y="246.78" font-size="8.2" text-anchor="end" font-weight="normal" fill="#231f20"  style="">8</text>
<line x1="383.80" y1="227.50" x2="387.30" y2="227.50" stroke="#231f20" stroke-width="1"/>
<text x="381.10" y="230.45" font-size="8.2" text-anchor="end" font-weight="normal" fill="#231f20"  style="">10</text>
<line x1="387.50" y1="309.00" x2="387.50" y2="312.50" stroke="#231f20" stroke-width="1"/>
<text x="387.30" y="322.00" font-size="8.2" text-anchor="middle" font-weight="normal" fill="#231f20"  style="">0</text>
<line x1="411.50" y1="309.00" x2="411.50" y2="312.50" stroke="#231f20" stroke-width="1"/>
<text x="411.70" y="322.00" font-size="8.2" text-anchor="middle" font-weight="normal" fill="#231f20"  style="">10</text>
<line x1="436.50" y1="309.00" x2="436.50" y2="312.50" stroke="#231f20" stroke-width="1"/>
<text x="436.10" y="322.00" font-size="8.2" text-anchor="middle" font-weight="normal" fill="#231f20"  style="">20</text>
<line x1="460.50" y1="309.00" x2="460.50" y2="312.50" stroke="#231f20" stroke-width="1"/>
<text x="460.50" y="322.00" font-size="8.2" text-anchor="middle" font-weight="normal" fill="#231f20"  style="">30</text>
<line x1="484.50" y1="309.00" x2="484.50" y2="312.50" stroke="#231f20" stroke-width="1"/>
<text x="484.90" y="322.00" font-size="8.2" text-anchor="middle" font-weight="normal" fill="#231f20"  style="">40</text>
<line x1="509.50" y1="309.00" x2="509.50" y2="312.50" stroke="#231f20" stroke-width="1"/>
<text x="509.30" y="322.00" font-size="8.2" text-anchor="middle" font-weight="normal" fill="#231f20"  style="">50</text>
<text transform="translate(366.70,267.50) rotate(-90)" font-size="8.9" text-anchor="middle" fill="#231f20" textLength="73" lengthAdjust="spacingAndGlyphs">PAP complex (µg/mL)</text>
<text x="449.50" y="335.40" font-size="8.9" text-anchor="middle" font-weight="normal" fill="#231f20" textLength="47.6" lengthAdjust="spacingAndGlyphs" style="">cVWF (ng/mL)</text>
<circle cx="430.25" cy="250.75" r="1.6" fill="#cf7f22"/>
<circle cx="502.25" cy="251.00" r="1.6" fill="#cf7f22"/>
<circle cx="421.50" cy="260.75" r="1.6" fill="#cf7f22"/>
<circle cx="480.50" cy="263.25" r="1.6" fill="#cf7f22"/>
<circle cx="412.00" cy="278.00" r="1.6" fill="#cf7f22"/>
<circle cx="426.50" cy="277.50" r="1.6" fill="#cf7f22"/>
<circle cx="436.50" cy="278.00" r="1.6" fill="#cf7f22"/>
<circle cx="404.75" cy="284.25" r="1.6" fill="#cf7f22"/>
<circle cx="412.00" cy="292.75" r="1.6" fill="#cf7f22"/>
<circle cx="389.00" cy="292.00" r="1.6" fill="#cf7f22"/>
<circle cx="390.25" cy="293.25" r="1.6" fill="#cf7f22"/>
<circle cx="395.75" cy="293.25" r="1.6" fill="#cf7f22"/>
<circle cx="387.75" cy="294.50" r="1.6" fill="#cf7f22"/>
<circle cx="402.25" cy="295.25" r="1.6" fill="#cf7f22"/>
<circle cx="395.25" cy="298.75" r="1.6" fill="#cf7f22"/>
<circle cx="399.50" cy="298.25" r="1.6" fill="#cf7f22"/>
<circle cx="406.00" cy="299.50" r="1.6" fill="#cf7f22"/>
<circle cx="387.00" cy="300.75" r="1.6" fill="#cf7f22"/>
<circle cx="394.50" cy="302.50" r="1.6" fill="#cf7f22"/>
<circle cx="407.00" cy="302.50" r="1.6" fill="#cf7f22"/>
<circle cx="408.25" cy="303.75" r="1.6" fill="#cf7f22"/>
<line x1="387.75" y1="297.50" x2="502.00" y2="245.50" stroke="#e99a33" stroke-width="1.2"/>
<text x="449.60" y="210.20" font-size="9.6" text-anchor="middle" font-weight="normal" fill="#231f20" textLength="97.2" lengthAdjust="spacingAndGlyphs" style="">cVWF vs PAP complex</text>
<text x="460.80" y="236.50" font-size="7.9" text-anchor="start" font-weight="normal" fill="#231f20" textLength="34" lengthAdjust="spacingAndGlyphs" style="">R<tspan font-size="5" dy="-3">2</tspan><tspan dy="3"> = 0.65</tspan></text>
<text x="460.80" y="246.10" font-size="7.9" text-anchor="start" font-weight="normal" fill="#231f20" textLength="34.5" lengthAdjust="spacingAndGlyphs" style=""><tspan font-style="italic">P</tspan> &lt; .0001</text>
<line x1="40.60" y1="468.50" x2="164.70" y2="468.50" stroke="#231f20" stroke-width="1"/>
<line x1="40.50" y1="385.00" x2="40.50" y2="471.70" stroke="#231f20" stroke-width="1"/>
<line x1="37.10" y1="469.50" x2="40.60" y2="469.50" stroke="#231f20" stroke-width="1"/>
<text x="34.40" y="472.30" font-size="8.2" text-anchor="end" font-weight="normal" fill="#231f20"  style="">0</text>
<line x1="37.10" y1="453.50" x2="40.60" y2="453.50" stroke="#231f20" stroke-width="1"/>
<text x="34.40" y="456.00" font-size="8.2" text-anchor="end" font-weight="normal" fill="#231f20"  style="">10</text>
<line x1="37.10" y1="436.50" x2="40.60" y2="436.50" stroke="#231f20" stroke-width="1"/>
<text x="34.40" y="439.70" font-size="8.2" text-anchor="end" font-weight="normal" fill="#231f20"  style="">20</text>
<line x1="37.10" y1="420.50" x2="40.60" y2="420.50" stroke="#231f20" stroke-width="1"/>
<text x="34.40" y="423.40" font-size="8.2" text-anchor="end" font-weight="normal" fill="#231f20"  style="">30</text>
<line x1="37.10" y1="404.50" x2="40.60" y2="404.50" stroke="#231f20" stroke-width="1"/>
<text x="34.40" y="407.10" font-size="8.2" text-anchor="end" font-weight="normal" fill="#231f20"  style="">40</text>
<line x1="37.10" y1="388.50" x2="40.60" y2="388.50" stroke="#231f20" stroke-width="1"/>
<text x="34.40" y="390.80" font-size="8.2" text-anchor="end" font-weight="normal" fill="#231f20"  style="">50</text>
<line x1="40.50" y1="468.70" x2="40.50" y2="472.20" stroke="#231f20" stroke-width="1"/>
<text x="40.70" y="481.70" font-size="8.2" text-anchor="middle" font-weight="normal" fill="#231f20"  style="">0</text>
<line x1="95.50" y1="468.70" x2="95.50" y2="472.20" stroke="#231f20" stroke-width="1"/>
<text x="95.50" y="481.70" font-size="8.2" text-anchor="middle" font-weight="normal" fill="#231f20"  style="">50</text>
<line x1="149.50" y1="468.70" x2="149.50" y2="472.20" stroke="#231f20" stroke-width="1"/>
<text x="149.70" y="481.70" font-size="8.2" text-anchor="middle" font-weight="normal" fill="#231f20"  style="">100</text>
<line x1="46.50" y1="468.70" x2="46.50" y2="470.70" stroke="#231f20" stroke-width="1"/>
<line x1="51.50" y1="468.70" x2="51.50" y2="470.70" stroke="#231f20" stroke-width="1"/>
<line x1="57.50" y1="468.70" x2="57.50" y2="470.70" stroke="#231f20" stroke-width="1"/>
<line x1="62.50" y1="468.70" x2="62.50" y2="470.70" stroke="#231f20" stroke-width="1"/>
<line x1="68.50" y1="468.70" x2="68.50" y2="470.70" stroke="#231f20" stroke-width="1"/>
<line x1="73.50" y1="468.70" x2="73.50" y2="470.70" stroke="#231f20" stroke-width="1"/>
<line x1="79.50" y1="468.70" x2="79.50" y2="470.70" stroke="#231f20" stroke-width="1"/>
<line x1="84.50" y1="468.70" x2="84.50" y2="470.70" stroke="#231f20" stroke-width="1"/>
<line x1="90.50" y1="468.70" x2="90.50" y2="470.70" stroke="#231f20" stroke-width="1"/>
<line x1="100.50" y1="468.70" x2="100.50" y2="470.70" stroke="#231f20" stroke-width="1"/>
<line x1="106.50" y1="468.70" x2="106.50" y2="470.70" stroke="#231f20" stroke-width="1"/>
<line x1="111.50" y1="468.70" x2="111.50" y2="470.70" stroke="#231f20" stroke-width="1"/>
<line x1="117.50" y1="468.70" x2="117.50" y2="470.70" stroke="#231f20" stroke-width="1"/>
<line x1="122.50" y1="468.70" x2="122.50" y2="470.70" stroke="#231f20" stroke-width="1"/>
<line x1="128.50" y1="468.70" x2="128.50" y2="470.70" stroke="#231f20" stroke-width="1"/>
<line x1="133.50" y1="468.70" x2="133.50" y2="470.70" stroke="#231f20" stroke-width="1"/>
<line x1="139.50" y1="468.70" x2="139.50" y2="470.70" stroke="#231f20" stroke-width="1"/>
<line x1="144.50" y1="468.70" x2="144.50" y2="470.70" stroke="#231f20" stroke-width="1"/>
<text transform="translate(18.70,427.35) rotate(-90)" font-size="8.9" text-anchor="middle" fill="#231f20" textLength="20" lengthAdjust="spacingAndGlyphs">cVWF</text>
<text x="102.70" y="495.40" font-size="8.9" text-anchor="middle" font-weight="normal" fill="#231f20" textLength="73" lengthAdjust="spacingAndGlyphs" style="">VWF antigen (µg/mL)</text>
<circle cx="48.00" cy="392.00" r="1.6" fill="#cf7f22"/>
<circle cx="107.75" cy="406.75" r="1.6" fill="#cf7f22"/>
<circle cx="40.50" cy="436.25" r="1.6" fill="#cf7f22"/>
<circle cx="54.00" cy="442.50" r="1.6" fill="#cf7f22"/>
<circle cx="55.25" cy="440.50" r="1.6" fill="#cf7f22"/>
<circle cx="45.25" cy="446.25" r="1.6" fill="#cf7f22"/>
<circle cx="45.50" cy="452.50" r="1.6" fill="#cf7f22"/>
<circle cx="44.75" cy="453.75" r="1.6" fill="#cf7f22"/>
<circle cx="46.50" cy="453.25" r="1.6" fill="#cf7f22"/>
<circle cx="42.25" cy="458.75" r="1.6" fill="#cf7f22"/>
<circle cx="47.75" cy="458.25" r="1.6" fill="#cf7f22"/>
<circle cx="49.25" cy="457.50" r="1.6" fill="#cf7f22"/>
<circle cx="67.25" cy="460.75" r="1.6" fill="#cf7f22"/>
<circle cx="76.75" cy="457.00" r="1.6" fill="#cf7f22"/>
<circle cx="93.50" cy="463.75" r="1.6" fill="#cf7f22"/>
<circle cx="153.50" cy="456.25" r="1.6" fill="#cf7f22"/>
<circle cx="42.25" cy="464.50" r="1.6" fill="#cf7f22"/>
<circle cx="51.75" cy="463.75" r="1.6" fill="#cf7f22"/>
<circle cx="56.00" cy="466.25" r="1.6" fill="#cf7f22"/>
<circle cx="73.50" cy="468.00" r="1.6" fill="#cf7f22"/>
<circle cx="81.50" cy="467.50" r="1.6" fill="#cf7f22"/>
<circle cx="44.75" cy="468.75" r="1.6" fill="#cf7f22"/>
<circle cx="48.00" cy="468.75" r="1.6" fill="#cf7f22"/>
<circle cx="50.50" cy="469.25" r="1.6" fill="#cf7f22"/>
<line x1="40.50" y1="455.30" x2="153.50" y2="447.50" stroke="#e99a33" stroke-width="1.2"/>
<text x="103.30" y="374.60" font-size="9.6" text-anchor="middle" font-weight="normal" fill="#231f20" textLength="96" lengthAdjust="spacingAndGlyphs" style="">cVWF vs VWF antigen</text>
<text x="120.60" y="396.20" font-size="7.9" text-anchor="start" font-weight="normal" fill="#231f20" textLength="34" lengthAdjust="spacingAndGlyphs" style="">R<tspan font-size="5" dy="-3">2</tspan><tspan dy="3"> = 0.01</tspan></text>
<text x="120.60" y="405.80" font-size="7.9" text-anchor="start" font-weight="normal" fill="#231f20" textLength="25.2" lengthAdjust="spacingAndGlyphs" style=""><tspan font-style="italic">P</tspan> = .60</text>
<line x1="213.60" y1="468.50" x2="337.90" y2="468.50" stroke="#231f20" stroke-width="1"/>
<line x1="213.50" y1="385.00" x2="213.50" y2="471.80" stroke="#231f20" stroke-width="1"/>
<line x1="210.10" y1="470.50" x2="213.60" y2="470.50" stroke="#231f20" stroke-width="1"/>
<text x="207.40" y="472.80" font-size="8.2" text-anchor="end" font-weight="normal" fill="#231f20"  style="">0</text>
<line x1="210.10" y1="449.50" x2="213.60" y2="449.50" stroke="#231f20" stroke-width="1"/>
<text x="207.40" y="452.20" font-size="8.2" text-anchor="end" font-weight="normal" fill="#231f20"  style="">50</text>
<line x1="210.10" y1="428.50" x2="213.60" y2="428.50" stroke="#231f20" stroke-width="1"/>
<text x="207.40" y="431.60" font-size="8.2" text-anchor="end" font-weight="normal" fill="#231f20"  style="">100</text>
<line x1="210.10" y1="408.50" x2="213.60" y2="408.50" stroke="#231f20" stroke-width="1"/>
<text x="207.40" y="411.00" font-size="8.2" text-anchor="end" font-weight="normal" fill="#231f20"  style="">150</text>
<line x1="210.10" y1="387.50" x2="213.60" y2="387.50" stroke="#231f20" stroke-width="1"/>
<text x="207.40" y="390.40" font-size="8.2" text-anchor="end" font-weight="normal" fill="#231f20"  style="">200</text>
<line x1="213.50" y1="468.80" x2="213.50" y2="472.30" stroke="#231f20" stroke-width="1"/>
<text x="213.60" y="481.80" font-size="8.2" text-anchor="middle" font-weight="normal" fill="#231f20"  style="">0</text>
<line x1="268.50" y1="468.80" x2="268.50" y2="472.30" stroke="#231f20" stroke-width="1"/>
<text x="268.40" y="481.80" font-size="8.2" text-anchor="middle" font-weight="normal" fill="#231f20"  style="">50</text>
<line x1="323.50" y1="468.80" x2="323.50" y2="472.30" stroke="#231f20" stroke-width="1"/>
<text x="323.20" y="481.80" font-size="8.2" text-anchor="middle" font-weight="normal" fill="#231f20"  style="">100</text>
<line x1="219.50" y1="468.80" x2="219.50" y2="470.80" stroke="#231f20" stroke-width="1"/>
<line x1="224.50" y1="468.80" x2="224.50" y2="470.80" stroke="#231f20" stroke-width="1"/>
<line x1="230.50" y1="468.80" x2="230.50" y2="470.80" stroke="#231f20" stroke-width="1"/>
<line x1="235.50" y1="468.80" x2="235.50" y2="470.80" stroke="#231f20" stroke-width="1"/>
<line x1="241.50" y1="468.80" x2="241.50" y2="470.80" stroke="#231f20" stroke-width="1"/>
<line x1="246.50" y1="468.80" x2="246.50" y2="470.80" stroke="#231f20" stroke-width="1"/>
<line x1="251.50" y1="468.80" x2="251.50" y2="470.80" stroke="#231f20" stroke-width="1"/>
<line x1="257.50" y1="468.80" x2="257.50" y2="470.80" stroke="#231f20" stroke-width="1"/>
<line x1="262.50" y1="468.80" x2="262.50" y2="470.80" stroke="#231f20" stroke-width="1"/>
<line x1="273.50" y1="468.80" x2="273.50" y2="470.80" stroke="#231f20" stroke-width="1"/>
<line x1="279.50" y1="468.80" x2="279.50" y2="470.80" stroke="#231f20" stroke-width="1"/>
<line x1="284.50" y1="468.80" x2="284.50" y2="470.80" stroke="#231f20" stroke-width="1"/>
<line x1="290.50" y1="468.80" x2="290.50" y2="470.80" stroke="#231f20" stroke-width="1"/>
<line x1="295.50" y1="468.80" x2="295.50" y2="470.80" stroke="#231f20" stroke-width="1"/>
<line x1="301.50" y1="468.80" x2="301.50" y2="470.80" stroke="#231f20" stroke-width="1"/>
<line x1="306.50" y1="468.80" x2="306.50" y2="470.80" stroke="#231f20" stroke-width="1"/>
<line x1="312.50" y1="468.80" x2="312.50" y2="470.80" stroke="#231f20" stroke-width="1"/>
<line x1="317.50" y1="468.80" x2="317.50" y2="470.80" stroke="#231f20" stroke-width="1"/>
<text transform="translate(188.10,427.40) rotate(-90)" font-size="8.9" text-anchor="middle" fill="#231f20" textLength="46" lengthAdjust="spacingAndGlyphs">Platelet count</text>
<text x="276.00" y="495.40" font-size="8.9" text-anchor="middle" font-weight="normal" fill="#231f20" textLength="73" lengthAdjust="spacingAndGlyphs" style="">VWF antigen (µg/mL)</text>
<circle cx="225.25" cy="410.00" r="1.6" fill="#cf7f22"/>
<circle cx="218.50" cy="412.00" r="1.6" fill="#cf7f22"/>
<circle cx="221.75" cy="414.50" r="1.6" fill="#cf7f22"/>
<circle cx="217.50" cy="416.50" r="1.6" fill="#cf7f22"/>
<circle cx="267.25" cy="417.50" r="1.6" fill="#cf7f22"/>
<circle cx="218.00" cy="422.00" r="1.6" fill="#cf7f22"/>
<circle cx="219.25" cy="423.00" r="1.6" fill="#cf7f22"/>
<circle cx="227.50" cy="423.00" r="1.6" fill="#cf7f22"/>
<circle cx="229.50" cy="431.50" r="1.6" fill="#cf7f22"/>
<circle cx="240.50" cy="429.50" r="1.6" fill="#cf7f22"/>
<circle cx="218.75" cy="439.50" r="1.6" fill="#cf7f22"/>
<circle cx="220.50" cy="440.00" r="1.6" fill="#cf7f22"/>
<circle cx="229.25" cy="440.25" r="1.6" fill="#cf7f22"/>
<circle cx="281.25" cy="441.50" r="1.6" fill="#cf7f22"/>
<circle cx="255.50" cy="444.00" r="1.6" fill="#cf7f22"/>
<circle cx="222.25" cy="450.75" r="1.6" fill="#cf7f22"/>
<circle cx="216.50" cy="456.00" r="1.6" fill="#cf7f22"/>
<circle cx="251.00" cy="457.75" r="1.6" fill="#cf7f22"/>
<circle cx="213.00" cy="460.75" r="1.6" fill="#cf7f22"/>
<circle cx="218.50" cy="461.75" r="1.6" fill="#cf7f22"/>
<circle cx="221.25" cy="463.00" r="1.6" fill="#cf7f22"/>
<circle cx="214.25" cy="465.50" r="1.6" fill="#cf7f22"/>
<circle cx="223.75" cy="465.50" r="1.6" fill="#cf7f22"/>
<circle cx="247.25" cy="465.50" r="1.6" fill="#cf7f22"/>
<circle cx="327.50" cy="463.00" r="1.6" fill="#cf7f22"/>
<line x1="215.50" y1="439.25" x2="327.50" y2="450.75" stroke="#e99a33" stroke-width="1.2"/>
<text x="276.00" y="369.60" font-size="9.6" text-anchor="middle" font-weight="normal" fill="#231f20" textLength="94.5" lengthAdjust="spacingAndGlyphs" style="">Platelet count vs VWF</text>
<text x="276.00" y="379.00" font-size="9.6" text-anchor="middle" font-weight="normal" fill="#231f20" textLength="33.6" lengthAdjust="spacingAndGlyphs" style="">antigen</text>
<text x="287.80" y="396.20" font-size="7.9" text-anchor="start" font-weight="normal" fill="#231f20" textLength="34" lengthAdjust="spacingAndGlyphs" style="">R<tspan font-size="5" dy="-3">2</tspan><tspan dy="3"> = 0.02</tspan></text>
<text x="287.80" y="405.80" font-size="7.9" text-anchor="start" font-weight="normal" fill="#231f20" textLength="25.9" lengthAdjust="spacingAndGlyphs" style=""><tspan font-style="italic">P</tspan> = .53</text>
<line x1="387.20" y1="468.50" x2="511.30" y2="468.50" stroke="#231f20" stroke-width="1"/>
<line x1="387.50" y1="385.00" x2="387.50" y2="471.80" stroke="#231f20" stroke-width="1"/>
<line x1="383.70" y1="470.50" x2="387.20" y2="470.50" stroke="#231f20" stroke-width="1"/>
<text x="381.00" y="472.80" font-size="8.2" text-anchor="end" font-weight="normal" fill="#231f20"  style="">0</text>
<line x1="383.70" y1="449.50" x2="387.20" y2="449.50" stroke="#231f20" stroke-width="1"/>
<text x="381.00" y="452.20" font-size="8.2" text-anchor="end" font-weight="normal" fill="#231f20"  style="">2</text>
<line x1="383.70" y1="428.50" x2="387.20" y2="428.50" stroke="#231f20" stroke-width="1"/>
<text x="381.00" y="431.60" font-size="8.2" text-anchor="end" font-weight="normal" fill="#231f20"  style="">4</text>
<line x1="383.70" y1="408.50" x2="387.20" y2="408.50" stroke="#231f20" stroke-width="1"/>
<text x="381.00" y="411.00" font-size="8.2" text-anchor="end" font-weight="normal" fill="#231f20"  style="">6</text>
<line x1="383.70" y1="387.50" x2="387.20" y2="387.50" stroke="#231f20" stroke-width="1"/>
<text x="381.00" y="390.40" font-size="8.2" text-anchor="end" font-weight="normal" fill="#231f20"  style="">8</text>
<line x1="387.50" y1="468.80" x2="387.50" y2="472.30" stroke="#231f20" stroke-width="1"/>
<text x="387.30" y="481.80" font-size="8.2" text-anchor="middle" font-weight="normal" fill="#231f20"  style="">0</text>
<line x1="442.50" y1="468.80" x2="442.50" y2="472.30" stroke="#231f20" stroke-width="1"/>
<text x="442.10" y="481.80" font-size="8.2" text-anchor="middle" font-weight="normal" fill="#231f20"  style="">50</text>
<line x1="496.50" y1="468.80" x2="496.50" y2="472.30" stroke="#231f20" stroke-width="1"/>
<text x="496.30" y="481.80" font-size="8.2" text-anchor="middle" font-weight="normal" fill="#231f20"  style="">100</text>
<line x1="392.50" y1="468.80" x2="392.50" y2="470.80" stroke="#231f20" stroke-width="1"/>
<line x1="398.50" y1="468.80" x2="398.50" y2="470.80" stroke="#231f20" stroke-width="1"/>
<line x1="403.50" y1="468.80" x2="403.50" y2="470.80" stroke="#231f20" stroke-width="1"/>
<line x1="408.50" y1="468.80" x2="408.50" y2="470.80" stroke="#231f20" stroke-width="1"/>
<line x1="414.50" y1="468.80" x2="414.50" y2="470.80" stroke="#231f20" stroke-width="1"/>
<line x1="419.50" y1="468.80" x2="419.50" y2="470.80" stroke="#231f20" stroke-width="1"/>
<line x1="425.50" y1="468.80" x2="425.50" y2="470.80" stroke="#231f20" stroke-width="1"/>
<line x1="430.50" y1="468.80" x2="430.50" y2="470.80" stroke="#231f20" stroke-width="1"/>
<line x1="436.50" y1="468.80" x2="436.50" y2="470.80" stroke="#231f20" stroke-width="1"/>
<line x1="446.50" y1="468.80" x2="446.50" y2="470.80" stroke="#231f20" stroke-width="1"/>
<line x1="452.50" y1="468.80" x2="452.50" y2="470.80" stroke="#231f20" stroke-width="1"/>
<line x1="457.50" y1="468.80" x2="457.50" y2="470.80" stroke="#231f20" stroke-width="1"/>
<line x1="463.50" y1="468.80" x2="463.50" y2="470.80" stroke="#231f20" stroke-width="1"/>
<line x1="468.50" y1="468.80" x2="468.50" y2="470.80" stroke="#231f20" stroke-width="1"/>
<line x1="474.50" y1="468.80" x2="474.50" y2="470.80" stroke="#231f20" stroke-width="1"/>
<line x1="479.50" y1="468.80" x2="479.50" y2="470.80" stroke="#231f20" stroke-width="1"/>
<line x1="484.50" y1="468.80" x2="484.50" y2="470.80" stroke="#231f20" stroke-width="1"/>
<line x1="490.50" y1="468.80" x2="490.50" y2="470.80" stroke="#231f20" stroke-width="1"/>
<text transform="translate(366.70,427.40) rotate(-90)" font-size="8.9" text-anchor="middle" fill="#231f20" textLength="73" lengthAdjust="spacingAndGlyphs">PAP complex (µg/mL)</text>
<text x="449.40" y="495.40" font-size="8.9" text-anchor="middle" font-weight="normal" fill="#231f20" textLength="72" lengthAdjust="spacingAndGlyphs" style="">VWF antigen (µg/mL)</text>
<circle cx="392.00" cy="396.25" r="1.6" fill="#cf7f22"/>
<circle cx="397.00" cy="396.50" r="1.6" fill="#cf7f22"/>
<circle cx="389.50" cy="408.25" r="1.6" fill="#cf7f22"/>
<circle cx="420.25" cy="411.75" r="1.6" fill="#cf7f22"/>
<circle cx="388.50" cy="430.00" r="1.6" fill="#cf7f22"/>
<circle cx="424.00" cy="429.50" r="1.6" fill="#cf7f22"/>
<circle cx="500.25" cy="428.75" r="1.6" fill="#cf7f22"/>
<circle cx="391.50" cy="438.00" r="1.6" fill="#cf7f22"/>
<circle cx="392.00" cy="448.00" r="1.6" fill="#cf7f22"/>
<circle cx="394.00" cy="449.50" r="1.6" fill="#cf7f22"/>
<circle cx="402.00" cy="449.00" r="1.6" fill="#cf7f22"/>
<circle cx="391.50" cy="450.75" r="1.6" fill="#cf7f22"/>
<circle cx="394.75" cy="452.00" r="1.6" fill="#cf7f22"/>
<circle cx="428.50" cy="450.75" r="1.6" fill="#cf7f22"/>
<circle cx="454.50" cy="449.25" r="1.6" fill="#cf7f22"/>
<circle cx="387.00" cy="455.00" r="1.6" fill="#cf7f22"/>
<circle cx="403.50" cy="455.75" r="1.6" fill="#cf7f22"/>
<circle cx="414.00" cy="456.50" r="1.6" fill="#cf7f22"/>
<circle cx="398.50" cy="458.25" r="1.6" fill="#cf7f22"/>
<circle cx="400.25" cy="460.00" r="1.6" fill="#cf7f22"/>
<circle cx="440.25" cy="458.25" r="1.6" fill="#cf7f22"/>
<circle cx="392.00" cy="460.50" r="1.6" fill="#cf7f22"/>
<circle cx="394.00" cy="461.75" r="1.6" fill="#cf7f22"/>
<line x1="387.75" y1="443.75" x2="500.25" y2="439.25" stroke="#e99a33" stroke-width="1.2"/>
<text x="448.20" y="374.60" font-size="9.6" text-anchor="middle" font-weight="normal" fill="#231f20" textLength="127.7" lengthAdjust="spacingAndGlyphs" style="">PAP complex vs VWF antigen</text>
<text x="460.25" y="396.25" font-size="7.9" text-anchor="start" font-weight="normal" fill="#231f20" textLength="34" lengthAdjust="spacingAndGlyphs" style="">R<tspan font-size="5" dy="-3">2</tspan><tspan dy="3"> = 0.00</tspan></text>
<text x="460.25" y="405.85" font-size="7.9" text-anchor="start" font-weight="normal" fill="#231f20" textLength="26.25" lengthAdjust="spacingAndGlyphs" style=""><tspan font-style="italic">P</tspan> = .77</text>
</svg>
</body></html>
